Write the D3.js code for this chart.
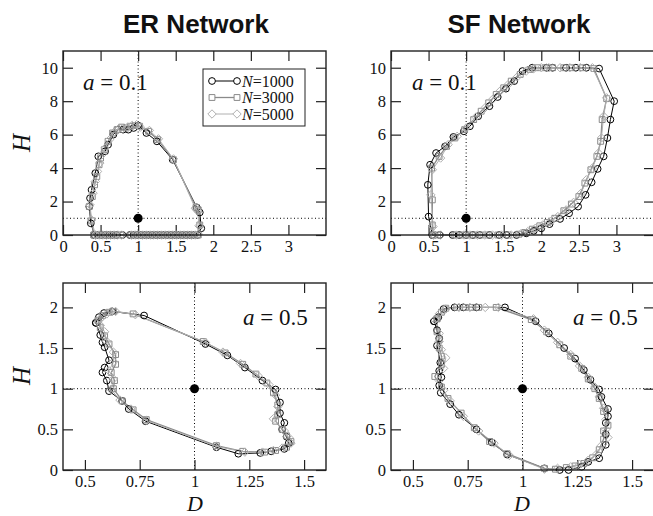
<!DOCTYPE html>
<html>
<head>
<meta charset="utf-8">
<script src="https://cdn.jsdelivr.net/npm/d3@7"></script>
<style>
  body { margin: 0; background: #fff; }
  svg { display: block; }
</style>
</head>
<body>
<svg id="chart"></svg>
<script>
// ---------------- data (D, H) ----------------

const seriesNames = ["N=1000", "N=3000", "N=5000"];

// ER network, a = 0.1
const erA01_N1000 = [[0.42,0],[0.47,0],[0.52,0],[0.57,0],[0.62,0],[0.67,0],[0.72,0],[0.79,0],[0.89,0],[0.94,0],[0.99,0],[1.04,0],[1.09,0],[1.14,0],[1.19,0],[1.24,0],[1.29,0],[1.34,0],[1.39,0],[1.44,0],[1.49,0],[1.54,0],[1.59,0],[1.64,0],[1.69,0],[1.74,0],[1.79,0],[1.84,0.4],[1.82,1.35],[1.78,1.65],[1.46,4.5],[1.25,5.6],[1.11,6.1],[1.0,6.55],[0.94,6.4],[0.87,6.3],[0.8,6.3],[0.73,6.3],[0.67,6.0],[0.6,5.4],[0.56,5.0],[0.47,4.7],[0.43,3.7],[0.38,2.7],[0.36,2.2],[0.35,1.7],[0.37,0.7],[0.42,0]];
const erA01_N3000 = [[0.41,0],[0.46,0],[0.51,0],[0.56,0],[0.61,0],[0.66,0],[0.71,0],[0.77,0],[0.9,0],[0.95,0],[1.0,0],[1.05,0],[1.1,0],[1.15,0],[1.2,0],[1.25,0],[1.3,0],[1.35,0],[1.4,0],[1.45,0],[1.5,0],[1.55,0],[1.6,0],[1.65,0],[1.7,0],[1.75,0],[1.8,0],[1.82,0.6],[1.8,1.5],[1.77,1.65],[1.47,4.5],[1.26,5.7],[1.14,6.2],[1.02,6.5],[0.96,6.55],[0.9,6.5],[0.84,6.4],[0.78,6.45],[0.72,6.3],[0.66,6.1],[0.6,5.6],[0.55,5.1],[0.5,4.6],[0.48,4.2],[0.45,3.5],[0.42,3.0],[0.39,2.3],[0.35,1.7],[0.38,0.85],[0.41,0]];
const erA01_N5000 = [[0.43,0],[0.48,0],[0.53,0],[0.58,0],[0.63,0],[0.68,0],[0.73,0],[0.78,0],[0.91,0],[0.96,0],[1.01,0],[1.06,0],[1.11,0],[1.16,0],[1.21,0],[1.26,0],[1.31,0],[1.36,0],[1.41,0],[1.46,0],[1.51,0],[1.56,0],[1.61,0],[1.66,0],[1.71,0],[1.76,0],[1.8,0.05],[1.81,0.55],[1.79,1.45],[1.76,1.6],[1.47,4.55],[1.27,5.75],[1.15,6.25],[1.03,6.45],[0.98,6.6],[0.92,6.55],[0.86,6.45],[0.79,6.35],[0.74,6.35],[0.68,6.15],[0.62,5.7],[0.56,5.2],[0.52,4.8],[0.49,4.3],[0.46,3.8],[0.43,3.2],[0.4,2.5],[0.36,1.8],[0.38,0.9],[0.43,0]];

// SF network, a = 0.1
const sfA01_N1000 = [[0.55,0],[0.65,0],[0.82,0],[0.91,0],[1.0,0],[1.09,0],[1.18,0],[1.31,0],[1.44,0],[1.54,0],[1.67,0],[1.8,0.1],[1.9,0.25],[2.0,0.4],[2.11,0.65],[2.25,0.96],[2.37,1.3],[2.49,1.7],[2.59,2.4],[2.67,3.15],[2.75,3.95],[2.83,4.7],[2.88,5.8],[2.92,6.9],[2.97,8.0],[2.77,9.95],[2.6,10],[2.46,10],[2.33,10],[2.15,10],[2.07,10],[1.88,10],[1.75,9.8],[1.64,9.2],[1.53,8.75],[1.42,8.25],[1.31,7.7],[1.16,7.1],[1.05,6.5],[0.97,6.2],[0.83,5.86],[0.72,5.3],[0.6,4.9],[0.52,4.2],[0.49,3.0],[0.5,1.1],[0.55,0]];
const sfA01_N3000 = [[0.56,0],[0.62,0],[0.85,0],[0.95,0],[1.0,0],[1.1,0],[1.2,0],[1.3,0],[1.42,0],[1.56,0],[1.7,0.05],[1.78,0.15],[1.88,0.35],[1.98,0.55],[2.08,0.75],[2.18,1.0],[2.3,1.45],[2.4,1.85],[2.5,2.3],[2.58,3.1],[2.66,3.9],[2.74,4.7],[2.79,5.6],[2.81,6.9],[2.87,8.15],[2.7,9.95],[2.55,10],[2.4,10],[2.3,10],[2.15,10],[2.05,10],[1.95,10],[1.85,9.9],[1.72,9.6],[1.6,9.2],[1.5,8.8],[1.4,8.4],[1.3,7.9],[1.2,7.4],[1.1,6.9],[0.98,6.3],[0.85,5.8],[0.74,5.3],[0.64,4.7],[0.54,4.0],[0.55,2.1],[0.55,0.6],[0.56,0]];
const sfA01_N5000 = [[0.57,0],[0.66,0],[0.87,0],[0.97,0],[1.05,0],[1.15,0],[1.25,0],[1.35,0],[1.47,0],[1.6,0],[1.73,0.08],[1.82,0.2],[1.92,0.4],[2.02,0.6],[2.12,0.8],[2.22,1.1],[2.33,1.5],[2.43,1.95],[2.53,2.5],[2.6,3.3],[2.68,4.0],[2.76,4.9],[2.8,5.8],[2.83,7.1],[2.87,8.2],[2.68,10],[2.52,10],[2.38,10],[2.25,10],[2.1,10],[2.0,10],[1.9,9.95],[1.8,9.8],[1.68,9.45],[1.56,9.0],[1.45,8.6],[1.35,8.1],[1.25,7.6],[1.13,7.05],[1.0,6.4],[0.88,5.9],[0.76,5.4],[0.66,4.6],[0.55,3.9],[0.53,2.4],[0.56,0.5],[0.57,0]];

// ER network, a = 0.5
const erA05_N1000 = [[0.55,1.81],[0.564,1.88],[0.587,1.93],[0.625,1.95],[0.77,1.9],[1.05,1.55],[1.15,1.41],[1.23,1.26],[1.31,1.1],[1.37,0.99],[1.39,0.83],[1.39,0.7],[1.41,0.58],[1.4,0.5],[1.42,0.41],[1.43,0.33],[1.41,0.26],[1.35,0.23],[1.3,0.21],[1.2,0.2],[1.1,0.28],[0.777,0.6],[0.7,0.75],[0.67,0.85],[0.61,0.97],[0.6,1.1],[0.58,1.2],[0.59,1.26],[0.61,1.35],[0.59,1.51],[0.58,1.57],[0.57,1.66],[0.55,1.81]];
const erA05_N3000 = [[0.56,1.84],[0.58,1.9],[0.61,1.94],[0.63,1.95],[0.72,1.92],[1.04,1.58],[1.14,1.44],[1.22,1.3],[1.28,1.18],[1.33,1.07],[1.36,0.95],[1.38,0.8],[1.38,0.68],[1.37,0.6],[1.4,0.5],[1.42,0.42],[1.44,0.35],[1.42,0.28],[1.37,0.24],[1.32,0.22],[1.22,0.23],[1.1,0.3],[0.78,0.62],[0.72,0.74],[0.67,0.85],[0.63,1.0],[0.635,1.1],[0.62,1.2],[0.64,1.3],[0.64,1.42],[0.61,1.55],[0.59,1.65],[0.57,1.75],[0.56,1.84]];
const erA05_N5000 = [[0.57,1.86],[0.6,1.92],[0.62,1.95],[0.64,1.95],[0.73,1.91],[1.05,1.57],[1.13,1.45],[1.21,1.31],[1.29,1.16],[1.34,1.05],[1.37,0.92],[1.38,0.78],[1.36,0.63],[1.41,0.48],[1.43,0.4],[1.44,0.33],[1.4,0.27],[1.36,0.24],[1.31,0.22],[1.23,0.22],[1.1,0.29],[0.78,0.61],[0.71,0.75],[0.66,0.86],[0.62,0.99],[0.63,1.12],[0.61,1.22],[0.63,1.33],[0.63,1.45],[0.6,1.58],[0.59,1.7],[0.57,1.78],[0.57,1.86]];

// SF network, a = 0.5
const sfA05_N1000 = [[0.596,1.83],[0.616,1.88],[0.64,1.98],[0.69,2.0],[0.73,2.0],[0.79,2.0],[0.92,2.0],[1.06,1.83],[1.12,1.68],[1.19,1.5],[1.24,1.37],[1.28,1.23],[1.31,1.11],[1.35,0.99],[1.36,0.9],[1.39,0.75],[1.39,0.66],[1.38,0.58],[1.38,0.44],[1.38,0.31],[1.35,0.145],[1.3,0.1],[1.27,0.04],[1.21,0],[1.17,0],[1.1,0.02],[0.93,0.19],[0.86,0.34],[0.79,0.5],[0.71,0.68],[0.67,0.81],[0.627,0.95],[0.62,1.04],[0.63,1.14],[0.62,1.22],[0.625,1.32],[0.61,1.53],[0.62,1.62],[0.61,1.72],[0.596,1.83]];
const sfA05_N3000 = [[0.61,1.86],[0.63,1.94],[0.65,1.99],[0.7,2.0],[0.74,2.0],[0.77,2.0],[0.8,2.0],[0.88,2.0],[1.04,1.85],[1.11,1.7],[1.17,1.54],[1.22,1.4],[1.27,1.25],[1.3,1.12],[1.33,1.0],[1.35,0.88],[1.37,0.72],[1.39,0.55],[1.37,0.48],[1.37,0.38],[1.35,0.25],[1.32,0.15],[1.28,0.08],[1.24,0.05],[1.2,0.03],[1.15,0.01],[1.1,0.02],[0.93,0.2],[0.85,0.35],[0.78,0.52],[0.72,0.7],[0.66,0.88],[0.63,1.02],[0.6,1.15],[0.63,1.3],[0.63,1.4],[0.62,1.5],[0.62,1.6],[0.61,1.7],[0.61,1.86]];
const sfA05_N5000 = [[0.6,1.85],[0.62,1.92],[0.65,1.98],[0.71,2.0],[0.76,2.0],[0.83,2.0],[0.89,2.0],[1.05,1.86],[1.1,1.72],[1.16,1.57],[1.22,1.42],[1.26,1.28],[1.3,1.14],[1.33,1.02],[1.35,0.9],[1.37,0.76],[1.38,0.62],[1.38,0.5],[1.39,0.4],[1.36,0.3],[1.34,0.2],[1.3,0.12],[1.26,0.07],[1.22,0.04],[1.16,0.02],[1.1,0.01],[0.94,0.18],[0.87,0.33],[0.8,0.48],[0.73,0.66],[0.67,0.85],[0.64,0.98],[0.62,1.1],[0.64,1.25],[0.65,1.38],[0.63,1.48],[0.62,1.58],[0.62,1.68],[0.6,1.85]];

// tick values
const xTicksTop = [0, 0.5, 1, 1.5, 2, 2.5, 3];
const yTicksTop = [0, 2, 4, 6, 8, 10];
const xTicksBottom = [0.5, 0.75, 1, 1.25, 1.5];
const yTicksBottom = [0, 0.5, 1, 1.5, 2];

// ---------------- layout & styles ----------------
const width = 653, height = 516;
const styles = [
  { stroke: "#000", lineWidth: 1, marker: "circle" },
  { stroke: "#8a8a8a", lineWidth: 1.3, marker: "square" },
  { stroke: "#b0b0b0", lineWidth: 1, marker: "diamond" }
];
const serif = "'Liberation Serif', 'Times New Roman', serif";

const svg = d3.select("#chart")
  .attr("width", width)
  .attr("height", height)
  .style("font-family", serif);

function markerPath(type) {
  if (type === "circle") return d3.symbol(d3.symbolCircle, 36)();
  if (type === "square") return d3.symbol(d3.symbolSquare, 34)();
  return "M0,-4.2L4.2,0L0,4.2L-4.2,0Z";
}

function drawPanel(p) {
  const x = d3.scaleLinear().domain(p.xDomain).range([p.left, p.right]);
  const y = d3.scaleLinear().domain(p.yDomain).range([p.bottom, p.top]);
  const g = svg.append("g");
  const fmt = d3.format("~g");

  // dotted reference lines at D=1, H=1
  g.append("line")
    .attr("x1", x(1)).attr("x2", x(1))
    .attr("y1", p.top).attr("y2", p.bottom)
    .attr("stroke", "#000").attr("stroke-width", 1)
    .attr("stroke-dasharray", "1,2.5");
  g.append("line")
    .attr("x1", p.left).attr("x2", p.right)
    .attr("y1", y(1)).attr("y2", y(1))
    .attr("stroke", "#000").attr("stroke-width", 1)
    .attr("stroke-dasharray", "1,2.5");

  // axes, inward ticks on all four sides
  const axes = [
    { ax: d3.axisBottom(x).tickValues(p.xTicks).tickFormat(fmt), t: `translate(0,${p.bottom})` },
    { ax: d3.axisTop(x).tickValues(p.xTicks).tickFormat(""), t: `translate(0,${p.top})` },
    { ax: d3.axisLeft(y).tickValues(p.yTicks).tickFormat(fmt), t: `translate(${p.left},0)` },
    { ax: d3.axisRight(y).tickValues(p.yTicks).tickFormat(""), t: `translate(${p.right},0)` }
  ];
  axes.forEach(a => {
    const ag = g.append("g")
      .attr("transform", a.t)
      .call(a.ax.tickSizeInner(-10).tickSizeOuter(0).tickPadding(5));
    ag.select(".domain").remove();
    ag.selectAll(".tick line").attr("stroke", "#222").attr("stroke-width", 1.2);
    ag.attr("font-family", null).attr("font-size", null);
    ag.selectAll("text")
      .attr("fill", "#111")
      .style("font-family", serif)
      .style("font-size", "16.5px");
  });

  // series: lines then markers
  p.series.forEach((data, i) => {
    const st = styles[i];
    g.append("path")
      .datum(data)
      .attr("fill", "none")
      .attr("stroke", st.stroke)
      .attr("stroke-width", st.lineWidth)
      .attr("d", d3.line().x(d => x(d[0])).y(d => y(d[1])));
  });
  p.series.forEach((data, i) => {
    const st = styles[i];
    g.append("g").selectAll("path")
      .data(data)
      .join("path")
      .attr("transform", d => `translate(${x(d[0])},${y(d[1])})`)
      .attr("d", markerPath(st.marker))
      .attr("fill", "none")
      .attr("stroke", st.stroke)
      .attr("stroke-width", 1);
  });

  // reference point (1,1)
  g.append("circle")
    .attr("cx", x(1)).attr("cy", y(1)).attr("r", 4.5)
    .attr("fill", "#000");

  // frame
  g.append("rect")
    .attr("x", p.left).attr("y", p.top)
    .attr("width", p.right - p.left).attr("height", p.bottom - p.top)
    .attr("fill", "none").attr("stroke", "#222").attr("stroke-width", 1.4);

  // a label
  const t = g.append("text")
    .attr("x", p.aPos[0]).attr("y", p.aPos[1])
    .style("font-size", "23px").attr("fill", "#111");
  t.append("tspan").style("font-style", "italic").text("a");
  t.append("tspan").text(" = " + p.aValue);

  return { x, y, g };
}

// top row
drawPanel({
  left: 63, right: 326, top: 51, bottom: 235,
  xDomain: [0, 3.5], yDomain: [0, 11],
  xTicks: xTicksTop, yTicks: yTicksTop,
  series: [erA01_N1000, erA01_N3000, erA01_N5000],
  aPos: [83, 90], aValue: "0.1"
});
drawPanel({
  left: 391, right: 654, top: 51, bottom: 235,
  xDomain: [0, 3.5], yDomain: [0, 11],
  xTicks: xTicksTop, yTicks: yTicksTop,
  series: [sfA01_N1000, sfA01_N3000, sfA01_N5000],
  aPos: [412, 90], aValue: "0.1"
});

// bottom row
drawPanel({
  left: 63, right: 326, top: 283, bottom: 470,
  xDomain: [0.4, 1.6], yDomain: [0, 2.3],
  xTicks: xTicksBottom, yTicks: yTicksBottom,
  series: [erA05_N1000, erA05_N3000, erA05_N5000],
  aPos: [243, 325], aValue: "0.5"
});
drawPanel({
  left: 391, right: 654, top: 283, bottom: 470,
  xDomain: [0.4, 1.6], yDomain: [0, 2.3],
  xTicks: xTicksBottom, yTicks: yTicksBottom,
  series: [sfA05_N1000, sfA05_N3000, sfA05_N5000],
  aPos: [573, 325], aValue: "0.5"
});

// legend in the top-left panel
const legend = svg.append("g");
legend.append("rect")
  .attr("x", 203).attr("y", 69).attr("width", 102).attr("height", 57)
  .attr("fill", "#fff").attr("stroke", "#222").attr("stroke-width", 1);
seriesNames.forEach((name, i) => {
  const st = styles[i];
  const ly = 81 + i * 16.5;
  legend.append("line")
    .attr("x1", 212).attr("x2", 237).attr("y1", ly).attr("y2", ly)
    .attr("stroke", st.stroke).attr("stroke-width", st.lineWidth);
  [212, 237].forEach(px => {
    legend.append("path")
      .attr("transform", `translate(${px},${ly})`)
      .attr("d", markerPath(st.marker))
      .attr("fill", "#fff").attr("stroke", st.stroke);
  });
  const txt = legend.append("text")
    .attr("x", 242).attr("y", ly + 5.5)
    .style("font-size", "16px").attr("fill", "#111");
  txt.append("tspan").style("font-style", "italic").text(name.split("=")[0]);
  txt.append("tspan").text("=" + name.split("=")[1]);
});

// titles and axis labels
svg.append("text").attr("x", 196).attr("y", 33)
  .attr("text-anchor", "middle")
  .style("font-family", "'Liberation Sans', Arial, sans-serif")
  .style("font-weight", "bold").style("font-size", "26px").attr("fill", "#111")
  .text("ER Network");
svg.append("text").attr("x", 519).attr("y", 33)
  .attr("text-anchor", "middle")
  .style("font-family", "'Liberation Sans', Arial, sans-serif")
  .style("font-weight", "bold").style("font-size", "26px").attr("fill", "#111")
  .text("SF Network");

[143, 376].forEach(cy => {
  svg.append("text")
    .attr("transform", `translate(30,${cy}) rotate(-90)`)
    .attr("text-anchor", "middle")
    .style("font-style", "italic").style("font-size", "25px").attr("fill", "#111")
    .text("H");
});
[195, 522].forEach(cx => {
  svg.append("text")
    .attr("x", cx).attr("y", 511)
    .attr("text-anchor", "middle")
    .style("font-style", "italic").style("font-size", "22px").attr("fill", "#111")
    .text("D");
});
</script>
</body>
</html>
